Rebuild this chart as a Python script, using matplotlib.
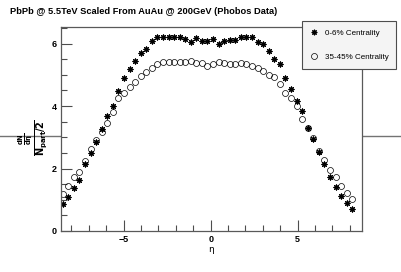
import matplotlib
matplotlib.use('Agg')
import matplotlib.pyplot as plt
from matplotlib.lines import Line2D
from matplotlib.ticker import MultipleLocator

plt.rcParams['font.family'] = ['Liberation Sans', 'DejaVu Sans']

# eta positions of the points
eta = [-8.50, -8.18, -7.86, -7.54, -7.22, -6.90, -6.58, -6.26, -5.94, -5.62,
       -5.30, -4.98, -4.66, -4.34, -4.02, -3.70, -3.38, -3.06, -2.74, -2.42,
       -2.10, -1.78, -1.46, -1.14, -0.82, -0.50, -0.18, 0.14, 0.46, 0.78,
       1.10, 1.42, 1.74, 2.06, 2.38, 2.70, 3.02, 3.34, 3.66, 3.98,
       4.30, 4.62, 4.94, 5.26, 5.58, 5.90, 6.22, 6.54, 6.86, 7.18,
       7.50, 7.82, 8.14]

# 0-6% centrality
central = [0.85, 1.10, 1.39, 1.63, 2.13, 2.49, 2.86, 3.28, 3.68, 4.00,
           4.48, 4.91, 5.18, 5.44, 5.71, 5.84, 6.08, 6.22, 6.20, 6.22,
           6.20, 6.20, 6.13, 6.05, 6.17, 6.09, 6.09, 6.14, 6.00, 6.09,
           6.11, 6.11, 6.22, 6.22, 6.22, 6.06, 5.98, 5.76, 5.50, 5.33,
           4.91, 4.54, 4.16, 3.84, 3.29, 2.94, 2.52, 2.13, 1.72, 1.40,
           1.12, 0.89, 0.69]

# 35-45% centrality
peripheral = [1.18, 1.44, 1.74, 1.88, 2.25, 2.61, 2.91, 3.18, 3.47, 3.82,
              4.27, 4.42, 4.62, 4.78, 4.97, 5.10, 5.23, 5.33, 5.40, 5.40,
              5.42, 5.42, 5.40, 5.45, 5.37, 5.37, 5.28, 5.36, 5.40, 5.37,
              5.36, 5.36, 5.39, 5.36, 5.29, 5.22, 5.12, 5.00, 4.92, 4.69,
              4.41, 4.27, 4.01, 3.58, 3.30, 2.98, 2.57, 2.27, 1.95, 1.74,
              1.44, 1.21, 1.02]

labels = ['0-6% Centrality', '35-45% Centrality']

W, H = 402, 272
fig = plt.figure(figsize=(W / 100, H / 100), dpi=100)

# stray horizontal line running across the whole canvas
fig.add_artist(Line2D([0, 1], [1 - 135.5 / H] * 2, color='0.45', lw=1,
                      transform=fig.transFigure, zorder=0))

ax = fig.add_axes([61 / W, 1 - 231 / H, 301 / W, 204 / H])
ax.set_facecolor('white')
ax.set_zorder(1)

star = (8, 2, 0)
ax.plot(eta, central, ls='none', marker=star, ms=4.2, mew=0.8, color='black')
ax.plot(eta, peripheral, ls='none', marker='o', ms=4.3, mew=0.5,
        mfc='none', mec='black')

ax.set_xlim(-8.6, 8.7)
ax.set_ylim(0, 6.53)
ax.xaxis.set_major_locator(MultipleLocator(5))
ax.xaxis.set_minor_locator(MultipleLocator(1))
ax.yaxis.set_major_locator(MultipleLocator(2))
ax.yaxis.set_minor_locator(MultipleLocator(0.5))
ax.tick_params(which='both', direction='in', top=False, right=False,
               color='0.3', labelsize=6.5, pad=3)
ax.tick_params(which='major', length=8, width=0.8)
ax.tick_params(which='minor', length=4, width=0.8)
for lab in ax.get_xticklabels() + ax.get_yticklabels():
    lab.set_fontweight('bold')
for sp in ax.spines.values():
    sp.set_color('0.35')
    sp.set_linewidth(0.9)

fig.text(10 / W, 1 - 12 / H,
         'PbPb @ 5.5TeV Scaled From AuAu @ 200GeV (Phobos Data)',
         fontsize=6.7, fontweight='bold', va='center', ha='left')
fig.text(211 / W, 1 - 250 / H, 'η', fontsize=6.5, ha='center', va='center',
         family=['DejaVu Sans'])
fig.text(33 / W, 1 - 138 / H, r'$\mathbf{\frac{\frac{dN}{d\eta}}{N_{part}/2}}$',
         fontsize=10, rotation=90, ha='center', va='center', zorder=3)

handles = [Line2D([], [], ls='none', marker=star, ms=4, mew=0.8, color='black'),
           Line2D([], [], ls='none', marker='o', ms=4.3, mew=0.5, mfc='none',
                  mec='black')]
leg = fig.legend(handles, labels, loc='upper left',
                 bbox_to_anchor=(302 / W, 1 - 21 / H), fontsize=5.8,
                 frameon=True, fancybox=False, edgecolor='0.3',
                 facecolor='#f4f4f4', framealpha=1, labelspacing=2.1,
                 borderpad=1.0, handlelength=0.9, handletextpad=0.9,
                 borderaxespad=0)
leg.get_frame().set_linewidth(0.8)
leg.set_zorder(5)

fig.savefig('out.png', dpi=100)
